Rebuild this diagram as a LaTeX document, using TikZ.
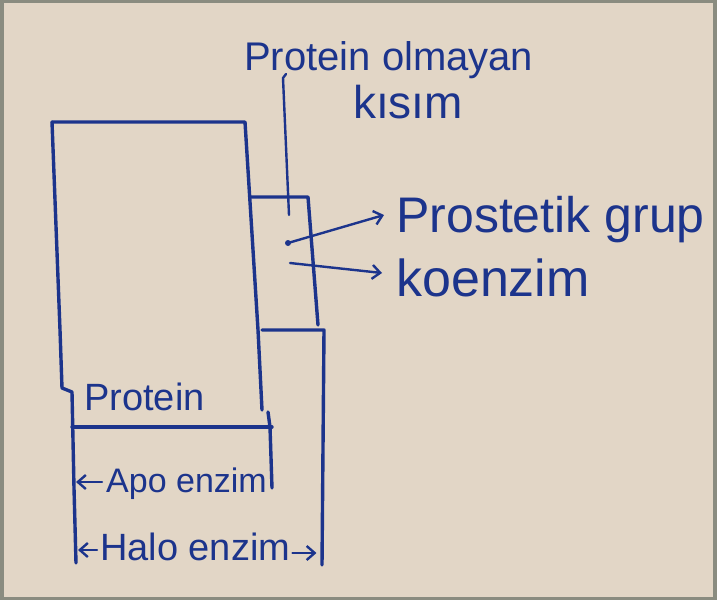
\documentclass[tikz,border=0pt]{standalone}
\usepackage{fontspec}
\setmainfont{Liberation Sans}
\usetikzlibrary{arrows.meta}
\definecolor{ink}{RGB}{28,52,140}
\definecolor{paper}{RGB}{226,214,198}
\definecolor{frame}{RGB}{138,140,128}
\tikzset{
  pen/.style={draw=ink, line width=3.4pt, line cap=round, line join=round},
  thinpen/.style={draw=ink, line width=2.4pt, line cap=round, line join=round},
  tip/.style={-{Straight Barb[length=8pt,width=14pt,line width=2.4pt]}},
  hand/.style={text=ink, inner sep=0pt, anchor=base west},
}
\newcommand{\fs}[1]{\fontsize{#1}{#1}\selectfont}
\begin{document}
\begin{tikzpicture}[x=1pt,y=-1pt]
\useasboundingbox (0,0) rectangle (717,600);
\fill[frame] (0,0) rectangle (717,600);
\fill[paper] (4,3) rectangle (713,597);
% texts
\node[hand, font=\fs{40}] (t1) at (244,70) {Protein olmayan};
\node[hand, font=\fs{46}] (t2) at (353,118) {kısım};
\node[hand, font=\fs{50}] (pg) at (396,232) {Prostetik grup};
\node[hand, font=\fs{52}] (ko) at (396,296) {koenzim};
\node[hand, font=\fs{38}] (pr) at (84,410) {Protein};
\node[hand, font=\fs{34}] (apo) at (106,492) {Apo enzim};
\node[hand, font=\fs{38}] (halo) at (100,560) {Halo enzim};
% protein block
\draw[pen] (52,122) -- (245,122) -- (258,330) -- (262,410);
\draw[pen] (52,122) -- (60,330) -- (62,388) -- (72,392) -- (74,488) -- (76,563);
\draw[pen] (72,427) -- (272,427);
\draw[pen] (268,412) -- (270,427) -- (272,488);
% non-protein part
\draw[pen] (250,197) -- (308,197) -- (318,325);
\draw[pen] (262,330) -- (324,330) -- (322,565);
% label line
\coordinate (lt) at (283,78);
\coordinate (lb) at (289,215);
\draw[thinpen] (286,74) -- (lt) -- (lb);
% arrows
\coordinate (a1) at (288,243);
\coordinate (a2) at (290,263);
\fill[ink] (a1) circle (3pt);
\draw[thinpen, tip] (a1) -- ([xshift=-12pt,yshift=17pt]pg.base west);
\draw[thinpen, tip] (a2) -- ([xshift=-14pt,yshift=23pt]ko.base west);
\draw[thinpen, tip] ([xshift=-4pt,yshift=10pt]apo.base west) -- ([xshift=-30pt,yshift=10pt]apo.base west);
\draw[thinpen, tip] ([xshift=-3pt,yshift=10pt]halo.base west) -- ([xshift=-22pt,yshift=10pt]halo.base west);
\draw[thinpen, tip] ([xshift=2pt,yshift=7pt]halo.base east) -- ([xshift=26pt,yshift=7pt]halo.base east);
\end{tikzpicture}
\end{document}
